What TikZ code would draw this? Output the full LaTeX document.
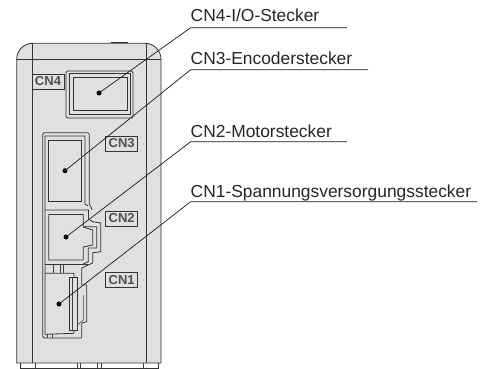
\documentclass[tikz,border=0pt]{standalone}
\usepackage{fontspec}
\setmainfont{Liberation Sans}
\usepackage{xcolor}
\definecolor{BodyGray}{HTML}{DFE0E2}
\definecolor{TagText}{HTML}{505050}
\usepackage{tikz}
\usetikzlibrary{positioning}
\tikzset{
  part/.style={line width=0.8pt,draw=black!80},
  fine/.style={line width=0.6pt,draw=black!75},
  tag/.style={draw=black!80,line width=0.7pt,fill=BodyGray,minimum width=32pt,minimum height=15pt,inner sep=0pt,font=\bfseries\fontsize{13}{13}\selectfont,text=TagText},
  callout/.style={anchor=base west,inner sep=0pt,font=\fontsize{17.4}{18}\selectfont,text=black!85},
  leader/.style={line width=0.7pt,draw=black!90},
  pin/.style={circle,fill=black,inner sep=0pt,minimum size=5pt}
}
\begin{document}
\begin{tikzpicture}[x=1pt,y=-1pt]
  \useasboundingbox (0,0) rectangle (492,369);
  % housing
  \draw[part,fill=BodyGray] (16.7,363) -- (16.7,59.3) arc[start angle=180,end angle=270,radius=16] -- (145,43.3) arc[start angle=270,end angle=360,radius=16] -- (161,363) -- cycle;
  \draw[part] (16.7,59.5) -- (161,59.5);
  \draw[part] (32,43.3) -- (32,363);
  \draw[part] (146,43.3) -- (146,363);
  \draw[part,line width=1pt] (110.7,42.5) -- (128,42.5);
  \draw[part] (20,363) -- (20,368) -- (158,368) -- (158,363);
  \foreach \tx in {35,77,80,97,101,143}
    \draw[fine] (\tx,363) -- (\tx,368);
  % CN4
  \draw[part,rounded corners=1.5pt] (66,71) rectangle (133,118);
  \draw[part] (69,73.5) rectangle (130,114);
  \draw[part] (73,77) rectangle (127,110);
  % CN3
  \draw[part,rounded corners=1.5pt] (81.7,338) -- (42.7,338) -- (42.7,132.7) -- (89.3,132.7) -- (89.3,205) -- (92,208) -- (92,210);
  \draw[part] (45,334.3) -- (45,136) -- (85,136) -- (85,204) -- (88,206);
  \draw[part] (48.7,140) rectangle (81.3,201.5);
  % CN2
  \draw[part] (45,210) -- (88.5,210) -- (88.5,219) -- (92.5,221.7) -- (100.7,223) -- (100.7,251.7) -- (92.7,252.7) -- (92.7,263) -- (81.7,268);
  \draw[part] (48.7,214.5) -- (83.3,214.5) -- (83.3,227) -- (85.3,226.7) -- (96.7,226.7) -- (96.7,248) -- (88.3,248) -- (88.3,261.7) -- (83.3,264);
  \draw[part] (48.7,214.5) -- (48.7,260) -- (83.3,260) -- (83.3,247) -- (92.7,245) -- (92.7,230) -- (83.3,227);
  % CN1
  \draw[part] (45,264) -- (88.3,264);
  \draw[part] (45,273.3) -- (74,273.3) -- (74,333.3) -- (45,334.3);
  \foreach \tx in {53.3,60,63.3}
    \draw[fine] (\tx,264) -- (\tx,273.3);
  \draw[part,fill=BodyGray] (69.3,277.7) rectangle (77.3,330.7);
  \draw[fine] (72.7,277.7) -- (72.7,330.7);
  \draw[part] (81.7,268) -- (81.7,285) -- (86.7,285) -- (86.7,321.7) -- (81.7,323) -- (81.7,338);
  \draw[fine] (83.3,295) -- (83.3,320) -- (77.3,325);
  \foreach \tx in {47.3,52.7}
    \draw[fine] (\tx,334.3) -- (\tx,338);
  % tags
  \node[tag] (tagfour) at (48,81.5) {CN4};
  \node[tag] (tagthree) at (121.7,143.5) {CN3};
  \node[tag] (tagtwo) at (121.7,218.5) {CN2};
  \node[tag] (tagone) at (121.7,280) {CN1};
  % callouts
  \node[pin] (pinfour) at (99,93) {};
  \node[pin] (pinthree) at (65,170.7) {};
  \node[pin] (pintwo) at (66,237) {};
  \node[pin] (pinone) at (59,304) {};
  \coordinate (kneefour) at (190.7,27.7);
  \coordinate (kneethree) at (190.7,69.7);
  \coordinate (kneetwo) at (190.7,141.7);
  \coordinate (kneeone) at (190.7,201.7);
  \coordinate (endfour) at (347,27.7);
  \coordinate (endthree) at (368,69.7);
  \coordinate (endtwo) at (347,141.7);
  \coordinate (endone) at (477,201.7);
  \node[callout] (textfour) at (190.5,22) {CN4-I/O-Stecker};
  \node[callout] (textthree) at (190.5,64) {CN3-Encoderstecker};
  \node[callout] (texttwo) at (190.5,137) {CN2-Motorstecker};
  \node[callout] (textone) at (190.5,197) {CN1-Spannungsversorgungsstecker};
  \draw[leader] (pinfour.center) -- (kneefour) -- (endfour);
  \draw[leader] (pinthree.center) -- (kneethree) -- (endthree);
  \draw[leader] (pintwo.center) -- (kneetwo) -- (endtwo);
  \draw[leader] (pinone.center) -- (kneeone) -- (endone);
\end{tikzpicture}
\end{document}
